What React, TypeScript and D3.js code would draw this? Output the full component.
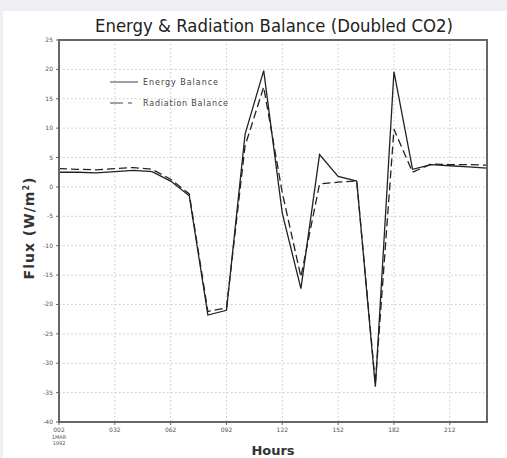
import React from "react";
import * as d3 from "d3";

const hours = [2, 12, 22, 32, 42, 52, 62, 72, 82, 92, 102, 112, 122, 132, 142, 152, 162, 172, 182, 192, 202, 212, 222, 232];
const energyBalance = [2.5, 2.5, 2.4, 2.6, 2.8, 2.6, 1.0, -1.5, -21.8, -21.0, 9.0, 19.8, -4.5, -17.3, 5.5, 1.8, 1.0, -34.0, 19.6, 3.0, 3.8, 3.6, 3.4, 3.2];
const radiationBalance = [3.1, 3.0, 2.9, 3.1, 3.3, 3.0, 1.3, -1.2, -21.2, -20.6, 7.0, 17.0, -1.0, -15.3, 0.5, 0.8, 1.0, -33.5, 9.8, 2.5, 3.9, 3.8, 3.8, 3.7];
const xTicks = [2, 32, 62, 92, 122, 152, 182, 212];
const xTickLabels = ["002", "032", "062", "092", "122", "152", "182", "212"];
const yTicks = [25, 20, 15, 10, 5, 0, -5, -10, -15, -20, -25, -30, -35, -40];
const seriesNames = ["Energy Balance", "Radiation Balance"];

export default function App() {
  const W = 507, H = 458;
  const left = 59, right = 487, top = 40, bottom = 422;
  const x = d3.scaleLinear().domain([2, 232]).range([left, right]);
  const y = d3.scaleLinear().domain([-40, 25]).range([bottom, top]);
  const line = d3.line<number>().x((_, i) => x(hours[i])).y((v) => y(v));
  const font = "'DejaVu Sans', sans-serif";
  return (
    <svg width={W} height={H} style={{ position: "absolute", left: 0, top: 0 }}>
      <rect x={0} y={0} width={W} height={H} fill="#eef0f3" />
      <rect x={3} y={11} width={W - 3} height={H - 11} fill="#ffffff" />
      <text x={274} y={32} textAnchor="middle" fontFamily={font} fontSize={17} fill="#222" textLength={358} lengthAdjust="spacingAndGlyphs">
        Energy &amp; Radiation Balance (Doubled CO2)
      </text>
      {/* grid */}
      {yTicks.filter((t) => t !== 25 && t !== -40).map((t) => (
        <line key={"gy" + t} x1={left} x2={right} y1={y(t)} y2={y(t)} stroke="#c8c8c8" strokeWidth={1} strokeDasharray="1.5,2.5" />
      ))}
      {xTicks.filter((t) => t !== 2).map((t) => (
        <line key={"gx" + t} x1={x(t)} x2={x(t)} y1={top} y2={bottom} stroke="#c8c8c8" strokeWidth={1} strokeDasharray="1.5,2.5" />
      ))}
      {/* lines */}
      <path d={line(radiationBalance) || ""} fill="none" stroke="#222" strokeWidth={1.3} strokeDasharray="8,4" />
      <path d={line(energyBalance) || ""} fill="none" stroke="#222" strokeWidth={1.3} />
      {/* frame */}
      <rect x={left} y={top} width={right - left} height={bottom - top} fill="none" stroke="#666" strokeWidth={2} />
      {/* y ticks */}
      {yTicks.map((t) => (
        <g key={"yt" + t}>
          <line x1={left - 3} x2={left} y1={y(t)} y2={y(t)} stroke="#666" strokeWidth={1} />
          <text x={left - 6} y={y(t) + 2} textAnchor="end" fontFamily={font} fontSize={6} fill="#555">{t}</text>
        </g>
      ))}
      {xTicks.map((t, i) => (
        <g key={"xt" + t}>
          <line x1={x(t)} x2={x(t)} y1={bottom} y2={bottom + 3} stroke="#666" strokeWidth={1} />
          <text x={x(t)} y={432} textAnchor="middle" fontFamily={font} fontSize={6} fill="#555">{xTickLabels[i]}</text>
        </g>
      ))}
      <text x={x(2)} y={439} textAnchor="middle" fontFamily={font} fontSize={5} fill="#555">1MAR</text>
      <text x={x(2)} y={445} textAnchor="middle" fontFamily={font} fontSize={5} fill="#555">1992</text>
      {/* axis titles */}
      <text x={273} y={455} textAnchor="middle" fontFamily={font} fontSize={13} fontWeight="bold" fill="#333">Hours</text>
      <text transform="translate(34,228) rotate(-90)" textAnchor="middle" fontFamily={font} fontSize={14} fontWeight="bold" fill="#333" letterSpacing={1}>
        Flux (W/m<tspan fontSize={8} dy={-5}>2</tspan><tspan dy={5}>)</tspan>
      </text>
      {/* legend */}
      <line x1={110} x2={138} y1={82} y2={82} stroke="#444" strokeWidth={1} />
      <text x={143} y={85} fontFamily={font} fontSize={8} fill="#444" textLength={75} lengthAdjust="spacing">{seriesNames[0]}</text>
      <line x1={110} x2={138} y1={103} y2={103} stroke="#444" strokeWidth={1} strokeDasharray="13,5,4,10" />
      <text x={143} y={106} fontFamily={font} fontSize={8} fill="#444" textLength={85} lengthAdjust="spacing">{seriesNames[1]}</text>
    </svg>
  );
}
